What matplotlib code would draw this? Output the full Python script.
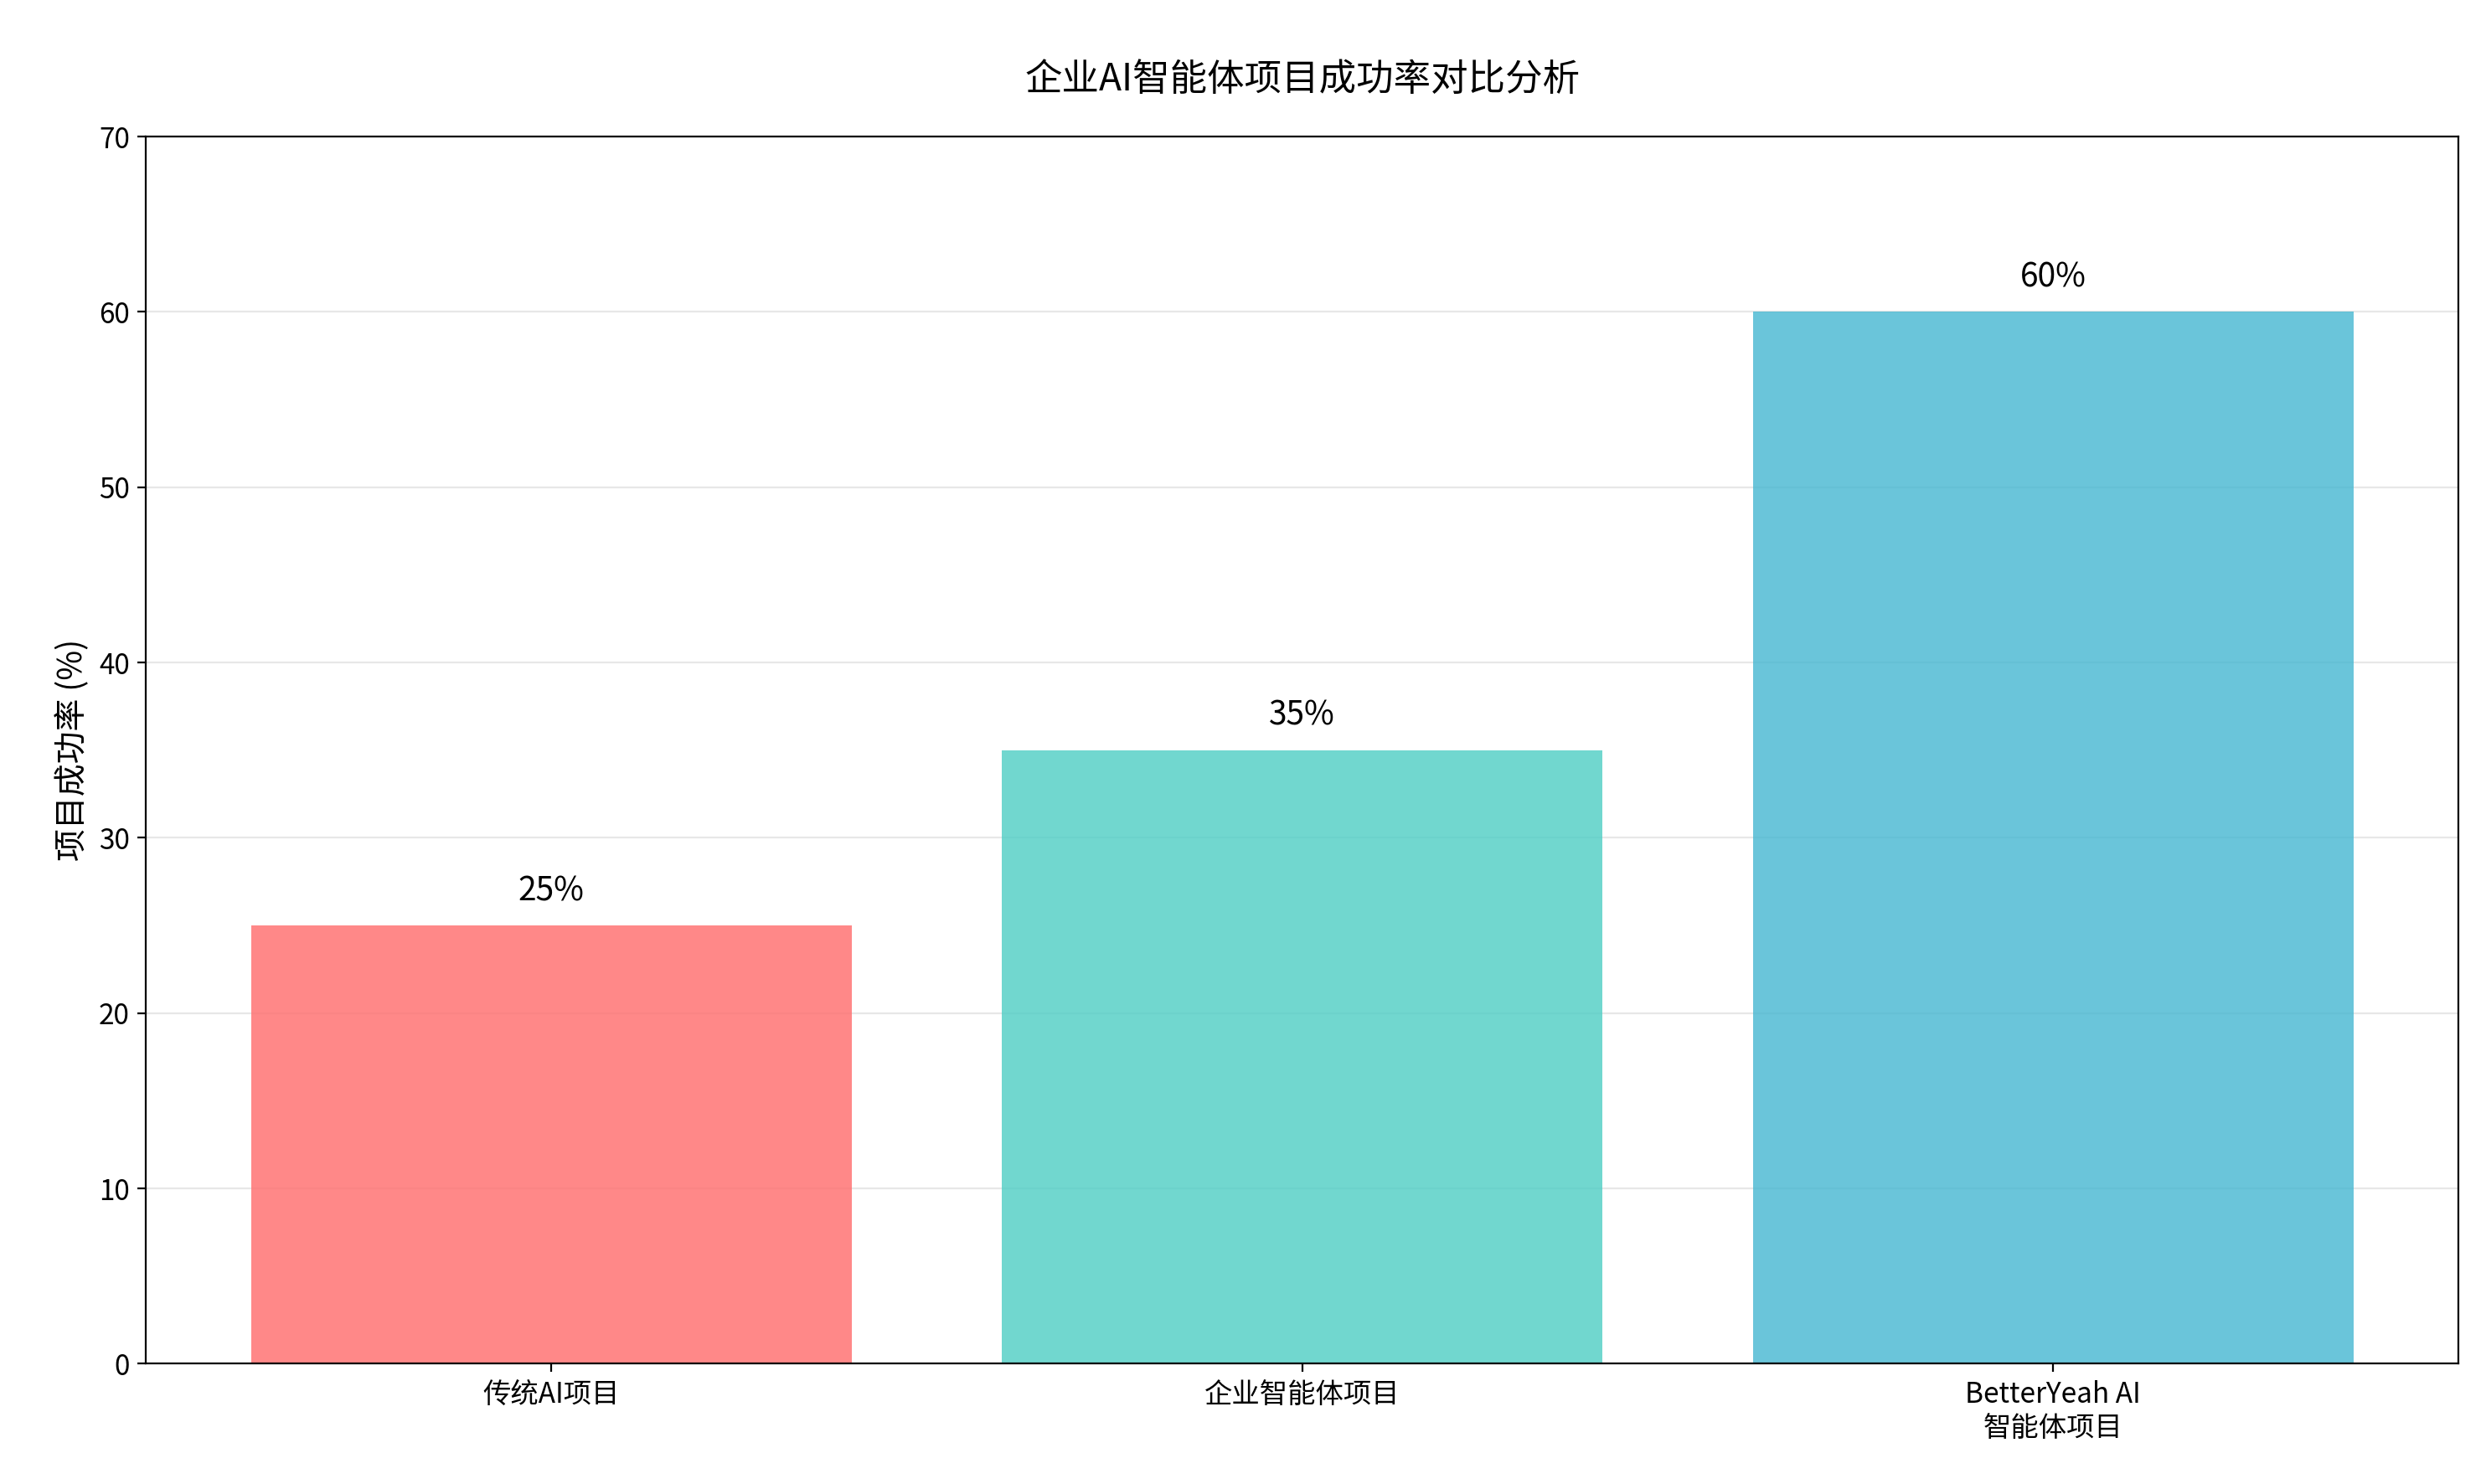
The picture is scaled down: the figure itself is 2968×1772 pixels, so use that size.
import matplotlib
matplotlib.use("Agg")
import matplotlib.pyplot as plt

plt.rcParams['font.family'] = ['Noto Sans CJK SC', 'DejaVu Sans']

categories = ['传统AI项目', '企业智能体项目', 'BetterYeah AI\n智能体项目']
success_rates = [25, 35, 60]
colors = ['#FF6B6B', '#4ECDC4', '#45B7D1']

fig = plt.figure(figsize=(14.84, 8.86), dpi=200)
ax = fig.add_axes([0.0587, 0.081, 0.9303, 0.827])

bars = ax.bar(categories, success_rates, color=colors, alpha=0.8, width=0.8)
for b, v in zip(bars, success_rates):
    ax.text(b.get_x() + b.get_width() / 2, v + 1, f'{v}%',
            ha='center', va='bottom', fontsize=14)

ax.set_ylim(0, 70)
ax.set_ylabel('项目成功率 (%)', fontsize=14)
ax.set_title('企业AI智能体项目成功率对比分析', fontsize=16, pad=20)
ax.tick_params(labelsize=12)
ax.grid(axis='y', alpha=0.3)
ax.set_axisbelow(True)

fig.savefig('out.png', dpi=200)
